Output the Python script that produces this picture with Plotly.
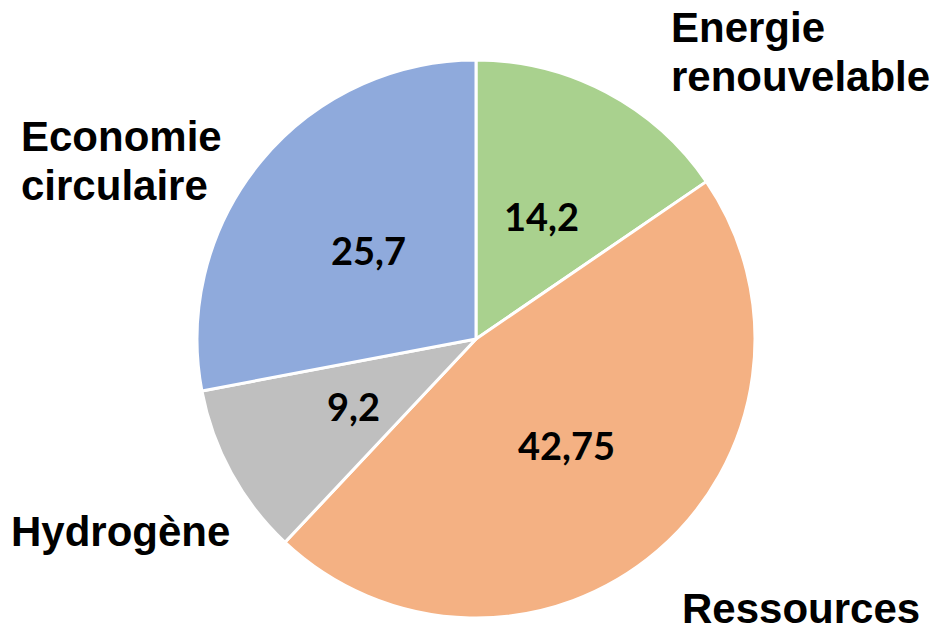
import math
import plotly.graph_objects as go

# Répartition (en %) par thème
categories = ["Energie renouvelable", "Ressources", "Hydrogène", "Economie circulaire"]
values = [14.2, 42.75, 9.2, 25.7]
colors = ["#A9D18E", "#F4B183", "#BFBFBF", "#8FAADC"]

# Libellés extérieurs, une ligne par entrée : (texte, x px gauche, y px centre)
outer_labels = [
    ("Energie", 669, 27),
    ("renouvelable", 669, 76),
    ("Economie", 19, 136),
    ("circulaire", 19, 185),
    ("Hydrogène", 9, 531),
    ("Ressources", 680, 608),
]

W, H = 936, 631
dom_x = [0.2105, 0.8066]
dom_y = [0.0206, 0.9049]

fig = go.Figure(
    go.Pie(
        labels=categories,
        values=values,
        sort=False,
        direction="clockwise",
        rotation=0,
        marker=dict(colors=colors, line=dict(color="white", width=3)),
        textinfo="none",
        hoverinfo="label+value",
        showlegend=False,
        domain=dict(x=dom_x, y=dom_y),
    )
)

# Valeurs placées au milieu de chaque part (à mi-rayon)
cx = (dom_x[0] + dom_x[1]) / 2 * W
cy = (1 - (dom_y[0] + dom_y[1]) / 2) * H
radius = min((dom_x[1] - dom_x[0]) * W, (dom_y[1] - dom_y[0]) * H) / 2
total = sum(values)
cum = 0.0
annotations = []
for v in values:
    mid = (cum + v / 2) / total * 2 * math.pi
    cum += v
    px = cx + 0.5 * radius * math.sin(mid)
    py = cy - 0.5 * radius * math.cos(mid)
    annotations.append(dict(
        x=px / W, y=1 - py / H, xref="paper", yref="paper",
        text=f"{v:g}".replace(".", ","), showarrow=False,
        xanchor="center", yanchor="middle",
        font=dict(family="Lato", size=38, color="black", weight="bold"),
    ))

for txt, lx, ly in outer_labels:
    annotations.append(dict(
        x=lx / W, y=1 - ly / H, xref="paper", yref="paper",
        text=f"<b>{txt}</b>", showarrow=False,
        xanchor="left", yanchor="middle",
        font=dict(family="Liberation Sans", size=42, color="black"),
    ))

fig.update_layout(
    width=W, height=H,
    margin=dict(l=0, r=0, t=0, b=0),
    paper_bgcolor="white",
    plot_bgcolor="white",
    annotations=annotations,
)

fig.write_html("out.html")
